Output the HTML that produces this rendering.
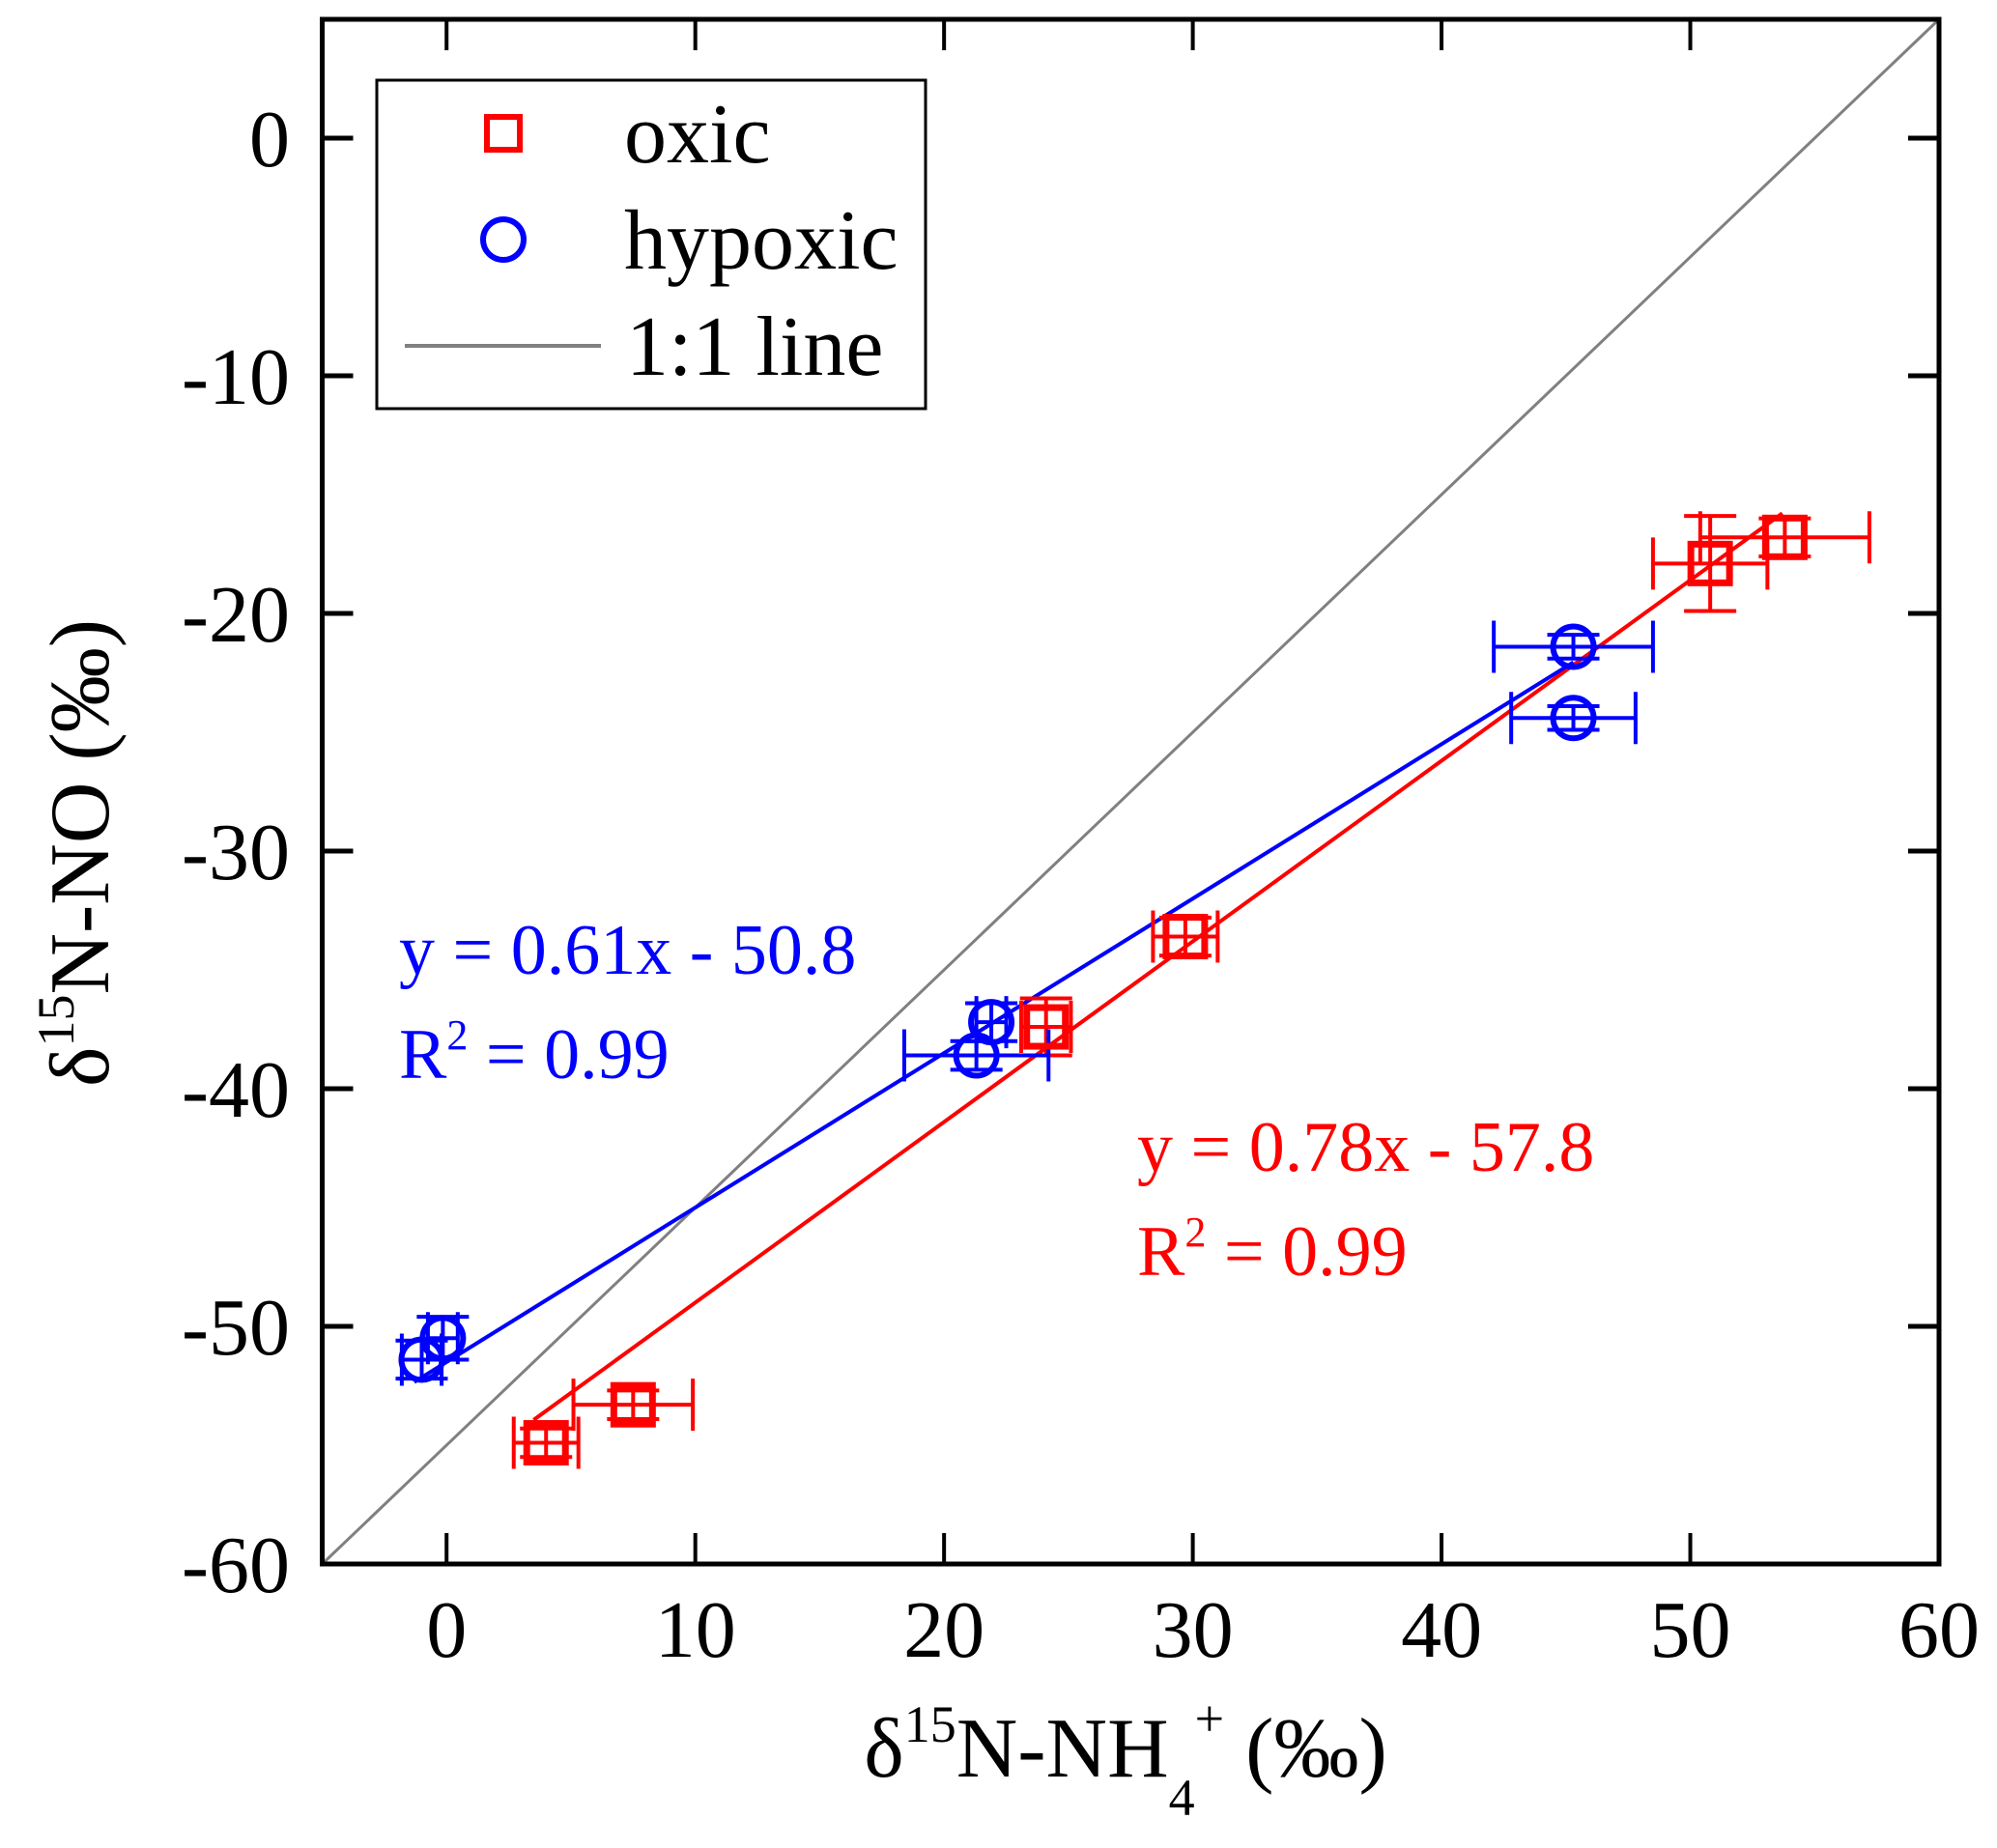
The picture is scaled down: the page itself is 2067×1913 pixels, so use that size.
<!DOCTYPE html>
<html><head><meta charset="utf-8"><style>
html,body{margin:0;padding:0;background:#fff;}
svg{display:block;font-family:"Liberation Serif",serif;}
</style></head><body>
<svg id="chart" width="2067" height="1913" viewBox="0 0 2067 1913"></svg>
<script>
const xTicks=[0,10,20,30,40,50,60];
const yTicks=[0,-10,-20,-30,-40,-50,-60];
const oxicX=[4.0,7.5,24.1,29.7,50.8,53.8];
const oxicY=[-54.9,-53.3,-37.4,-33.6,-17.9,-16.8];
const oxicXErr=[1.3,2.4,1.0,1.3,2.3,3.4];
const oxicYErr=[0.6,0.6,1.2,0.8,2.0,0.8];
const hypX=[-1.0,-0.15,21.3,21.9,45.3,45.3];
const hypY=[-51.4,-50.5,-38.6,-37.2,-21.4,-24.4];
const hypXErr=[0.8,0.6,2.9,0.6,3.2,2.5];
const hypYErr=[0.8,0.9,0.6,0.8,0.5,0.5];
const oxicFit=[0.76,-56.6,3.5,53.7];
const hypFit=[0.65,-51.5,-1.3,45.3];
const oneToOne=[-5,60];

const L=333.5,R=2007,T=20,B=1619;
const xmin=-5,xmax=60,ymin=-60,ymax=5;
const sx=v=>L+(v-xmin)/(xmax-xmin)*(R-L);
const sy=v=>B-(v-ymin)/(ymax-ymin)*(B-T);
const svg=document.getElementById('chart');
const NS='http://www.w3.org/2000/svg';
function mk(tag,attrs,parent){const e=document.createElementNS(NS,tag);for(const k in attrs)e.setAttribute(k,attrs[k]);(parent||svg).appendChild(e);return e;}

let e=mk('line',{x1:sx(oneToOne[0]),y1:sy(oneToOne[0]-55),x2:sx(oneToOne[1]),y2:sy(oneToOne[1]-55),stroke:'#808080','stroke-width':3});



function fit(f,color,name){const l=mk('line',{x1:sx(f[2]),y1:sy(f[0]*f[2]+f[1]),x2:sx(f[3]),y2:sy(f[0]*f[3]+f[1]),stroke:color,'stroke-width':4});

}
fit(oxicFit,'#ff0000','oxic-fit-line');
fit(hypFit,'#0000ff','hypoxic-fit-line');

function errbars(xs,ys,xe,ye,color,name){
 for(let i=0;i<xs.length;i++){
  const g=mk('g',{stroke:color,'stroke-width':4,fill:'none'});
  
  
  const cx=sx(xs[i]),cy=sy(ys[i]);
  const x1=sx(xs[i]-xe[i]),x2=sx(xs[i]+xe[i]),y1=sy(ys[i]+ye[i]),y2=sy(ys[i]-ye[i]);
  mk('line',{x1:x1,y1:cy,x2:x2,y2:cy},g);
  mk('line',{x1:x1,y1:cy-27,x2:x1,y2:cy+27},g);
  mk('line',{x1:x2,y1:cy-27,x2:x2,y2:cy+27},g);
  mk('line',{x1:cx,y1:y1,x2:cx,y2:y2},g);
  mk('line',{x1:cx-27,y1:y1,x2:cx+27,y2:y1},g);
  mk('line',{x1:cx-27,y1:y2,x2:cx+27,y2:y2},g);
 }
}
errbars(oxicX,oxicY,oxicXErr,oxicYErr,'#ff0000','oxic');
errbars(hypX,hypY,hypXErr,hypYErr,'#0000ff','hypoxic');
for(let i=0;i<oxicX.length;i++){
 const r=mk('rect',{x:sx(oxicX[i])-20,y:sy(oxicY[i])-20,width:40,height:40,fill:'none',stroke:'#ff0000','stroke-width':7});
 
 
}
for(let i=0;i<hypX.length;i++){
 const c=mk('circle',{cx:sx(hypX[i]),cy:sy(hypY[i]),r:21,fill:'none',stroke:'#0000ff','stroke-width':6});
 
 
}

e=mk('rect',{x:L,y:T,width:R-L,height:B-T,fill:'none',stroke:'#000','stroke-width':5});


xTicks.forEach(v=>{
 mk('line',{x1:sx(v),y1:B,x2:sx(v),y2:B-32,stroke:'#000','stroke-width':4});
 mk('line',{x1:sx(v),y1:T,x2:sx(v),y2:T+32,stroke:'#000','stroke-width':4});
 const t=mk('text',{x:sx(v),y:1715,'font-size':84,'text-anchor':'middle'});t.textContent=v;
 
 
});
yTicks.forEach(v=>{
 mk('line',{x1:L,y1:sy(v),x2:L+32,y2:sy(v),stroke:'#000','stroke-width':5});
 mk('line',{x1:R,y1:sy(v),x2:R-32,y2:sy(v),stroke:'#000','stroke-width':5});
 const t=mk('text',{x:300,y:sy(v)+29,'font-size':84,'text-anchor':'end'});t.textContent=v;
 
 
});
</script>
<svg width="2067" height="1913" style="position:absolute;left:0;top:0;font-family:'Liberation Serif',serif">
 <text x="1165" y="1839" font-size="88" text-anchor="middle">δ<tspan font-size="54" dy="-36">15</tspan><tspan dy="36">N-NH</tspan><tspan font-size="54" dy="40">4</tspan><tspan font-size="54" dy="-82">+</tspan><tspan dy="42"> (‰)</tspan></text>
 <text transform="translate(112,883) rotate(-90)" font-size="88" text-anchor="middle">δ<tspan font-size="54" dy="-36">15</tspan><tspan dy="36">N-NO (‰)</tspan></text>
 <g>
  <rect x="390" y="83" width="568" height="340" fill="#fff" stroke="#000" stroke-width="3"/>
  <rect x="504" y="121" width="34" height="34" fill="none" stroke="#ff0000" stroke-width="6"/>
  <text x="646" y="168" font-size="88">oxic</text>
  <circle cx="521" cy="248" r="21" fill="none" stroke="#0000ff" stroke-width="6"/>
  <text x="646" y="278" font-size="88">hypoxic</text>
  <line x1="419" y1="358" x2="622" y2="358" stroke="#808080" stroke-width="4"/>
  <text x="648" y="388" font-size="88">1:1 line</text>
 </g>
 <text x="413" y="1008" font-size="74" fill="#0000ff">y = 0.61x - 50.8</text>
 <text x="413" y="1116" font-size="74" fill="#0000ff">R<tspan font-size="44" dy="-30">2</tspan><tspan dy="30"> = 0.99</tspan></text>
 <text x="1177" y="1212" font-size="74" fill="#ff0000">y = 0.78x - 57.8</text>
 <text x="1177" y="1320" font-size="74" fill="#ff0000">R<tspan font-size="44" dy="-30">2</tspan><tspan dy="30"> = 0.99</tspan></text>
</svg>
</body></html>
